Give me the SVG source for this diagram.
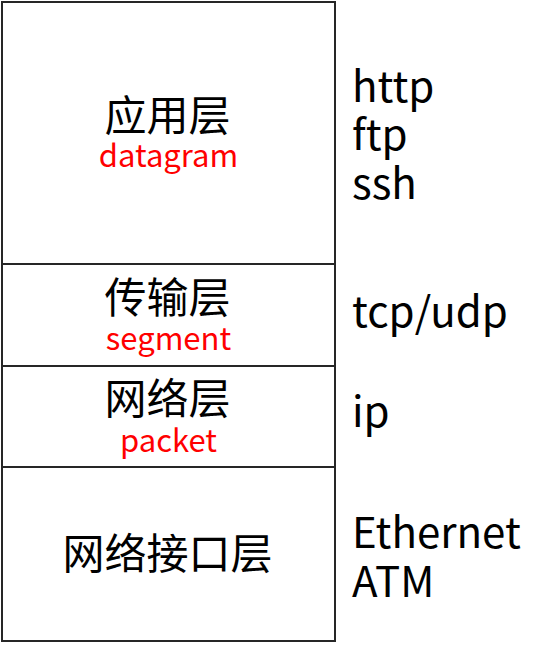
<svg xmlns="http://www.w3.org/2000/svg" width="547" height="645" viewBox="0 0 547 645">
<style>
.box{fill:#fff;stroke:#262626;stroke-width:2}
.cn{font-family:"Noto Sans CJK SC","Noto Sans",sans-serif;font-size:42px;fill:#000;text-anchor:middle}
.pdu{font-family:"Noto Sans CJK SC","Noto Sans",sans-serif;font-size:31px;fill:#ff0000;text-anchor:middle}
.proto{font-family:"Noto Sans CJK SC","Noto Sans",sans-serif;font-size:42px;fill:#000}
</style>
<rect width="547" height="645" fill="#fff"/>
<g id="app">
<rect class="box" x="2" y="2" width="333" height="262"/>
<text class="cn" x="167.5" y="131">应用层</text>
<text class="pdu" x="168.5" y="167">datagram</text>
</g>
<g id="transport">
<rect class="box" x="2" y="264" width="333" height="102"/>
<text class="cn" x="167.5" y="313">传输层</text>
<text class="pdu" x="168.5" y="350">segment</text>
</g>
<g id="network">
<rect class="box" x="2" y="366" width="333" height="101"/>
<text class="cn" x="167.5" y="414">网络层</text>
<text class="pdu" x="168.5" y="452">packet</text>
</g>
<g id="link">
<rect class="box" x="2" y="467" width="333" height="174"/>
<text class="cn" x="167.5" y="569">网络接口层</text>
</g>
<g id="protocols">
<text class="proto" x="352" y="102">http</text>
<text class="proto" x="352" y="150">ftp</text>
<text class="proto" x="352" y="199">ssh</text>
<text class="proto" x="352" y="327">tcp/udp</text>
<text class="proto" x="352" y="427">ip</text>
<text class="proto" x="352" y="548">Ethernet</text>
<text class="proto" x="352" y="597">ATM</text>
</g>
<g id="connectors"></g>
</svg>
